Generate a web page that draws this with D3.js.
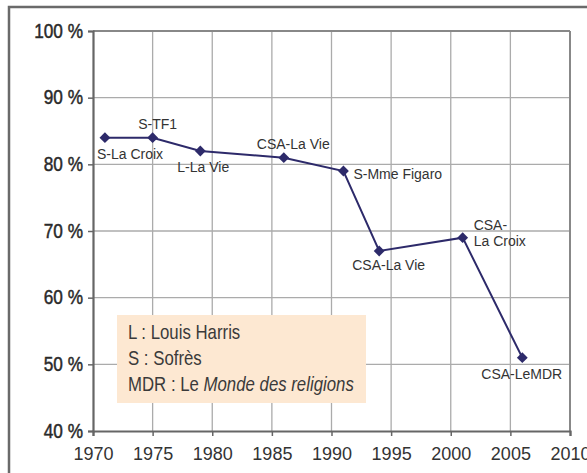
<!DOCTYPE html>
<html><head><meta charset="utf-8">
<script src="https://cdn.jsdelivr.net/npm/d3@7"></script>
<style>
html,body{margin:0;padding:0;background:#fff;overflow:hidden;}
svg{display:block;}
</style></head>
<body>
<script>
const years = [1971, 1975, 1979, 1986, 1991, 1994, 2001, 2006];
const values = [84, 84, 82, 81, 79, 67, 69, 51];
const pointLabels = ["S-La Croix", "S-TF1", "L-La Vie", "CSA-La Vie", "S-Mme Figaro", "CSA-La Vie", "CSA-\nLa Croix", "CSA-LeMDR"];
const xTicks = [1970, 1975, 1980, 1985, 1990, 1995, 2000, 2005, 2010];
const yTicks = [40, 50, 60, 70, 80, 90, 100];
const legendLines = [["L : Louis Harris", ""], ["S : Sofrès", ""], ["MDR : Le ", "Monde des religions"]];

// label offsets (dx, dy, anchor) relative to point
const labelPos = [
  [-8, 21, "start"], [5, -9, "middle"], [-23, 21, "start"], [-27, -9, "start"],
  [10, 8, "start"], [-27, 19, "start"], [11, -8, "start"], [-41, 21, "start"]
];

const W = 587, H = 473;
const svg = d3.select("body").append("svg").attr("width", W).attr("height", H);

// outer frame (extends past right/bottom edge)
svg.append("rect").attr("x", 9).attr("y", 7).attr("width", 620).attr("height", 500)
  .attr("fill", "none").attr("stroke", "#6a6a6a").attr("stroke-width", 2.5);

const x = d3.scaleLinear().domain([1970, 2010]).range([93, 570]);
const y = d3.scaleLinear().domain([40, 100]).range([431, 31]);

// grid
const g = svg.append("g");
g.selectAll(".vg").data(xTicks.slice(1, -1)).join("line")
  .attr("x1", d => x(d)).attr("x2", d => x(d)).attr("y1", y(100)).attr("y2", y(40))
  .attr("stroke", "#ababab").attr("stroke-width", 1.3);
g.selectAll(".hg").data(yTicks.slice(1, -1)).join("line")
  .attr("x1", x(1970)).attr("x2", x(2010)).attr("y1", d => y(d)).attr("y2", d => y(d))
  .attr("stroke", "#ababab").attr("stroke-width", 1.3);
// top/right border of plot
g.append("line").attr("x1", x(1970)).attr("x2", x(2010)).attr("y1", y(100)).attr("y2", y(100))
  .attr("stroke", "#888").attr("stroke-width", 1.8);
g.append("line").attr("x1", x(2010)).attr("x2", x(2010)).attr("y1", y(100)).attr("y2", y(40))
  .attr("stroke", "#888").attr("stroke-width", 2);

// legend box
const lg = svg.append("g");
lg.append("rect").attr("x", 117).attr("y", 315).attr("width", 249).attr("height", 88)
  .attr("fill", "#fde8d2");
const lsx = 0.84;
legendLines.forEach((l, i) => {
  const t = lg.append("text").attr("x", 128 / lsx).attr("y", 339 + i * 26)
    .attr("transform", `scale(${lsx},1)`)
    .attr("font-family", "'Liberation Sans', Arial, sans-serif")
    .attr("font-size", 20).attr("fill", "#3a3a3a");
  t.append("tspan").text(l[0]);
  if (l[1]) t.append("tspan").attr("font-style", "italic").text(l[1]);
});

// axes
const xAxis = svg.append("g").attr("transform", `translate(0,${y(40)})`)
  .call(d3.axisBottom(x).tickValues(xTicks).tickFormat(d3.format("d")).tickSize(5).tickPadding(11));
const yAxis = svg.append("g").attr("transform", `translate(${x(1970)},0)`)
  .call(d3.axisLeft(y).tickValues(yTicks).tickFormat(d => d + " %").tickSize(5).tickPadding(6));
[xAxis, yAxis].forEach(a => {
  a.select(".domain").attr("stroke", "#666").attr("stroke-width", 2.2);
  a.selectAll(".tick line").attr("stroke", "#666").attr("stroke-width", 1.5);
});
xAxis.selectAll("text").attr("font-family", "'Liberation Sans', Arial, sans-serif")
  .attr("font-size", 18).attr("fill", "#333");
const ysx = 0.82;
yAxis.selectAll("text").attr("font-family", "'Liberation Sans', Arial, sans-serif")
  .attr("font-size", 21).attr("fill", "#2a2a2a").attr("dy", "0.3em")
  .attr("stroke", "#2a2a2a").attr("stroke-width", 0.5)
  .attr("x", -10 / ysx).attr("transform", `scale(${ysx},1)`);

// line
const data = years.map((yr, i) => ({yr, v: values[i], label: pointLabels[i], pos: labelPos[i]}));
svg.append("path").datum(data)
  .attr("d", d3.line().x(d => x(d.yr)).y(d => y(d.v)))
  .attr("fill", "none").attr("stroke", "#2d2a6a").attr("stroke-width", 2);
svg.selectAll(".mk").data(data).join("path")
  .attr("transform", d => `translate(${x(d.yr)},${y(d.v)})`)
  .attr("d", d3.symbol().type(d3.symbolDiamond2 || d3.symbolDiamond).size(75))
  .attr("fill", "#2d2a6a");

// labels
data.forEach(d => {
  const lines = d.label.split("\n");
  const t = svg.append("text")
    .attr("x", x(d.yr) + d.pos[0]).attr("y", y(d.v) + d.pos[1])
    .attr("text-anchor", d.pos[2])
    .attr("font-family", "'Liberation Sans', Arial, sans-serif")
    .attr("font-size", 14).attr("fill", "#333");
  lines.forEach((ln, i) => t.append("tspan").attr("x", x(d.yr) + d.pos[0]).attr("dy", i ? 16 : 0).text(ln));
});
</script>
</body></html>
